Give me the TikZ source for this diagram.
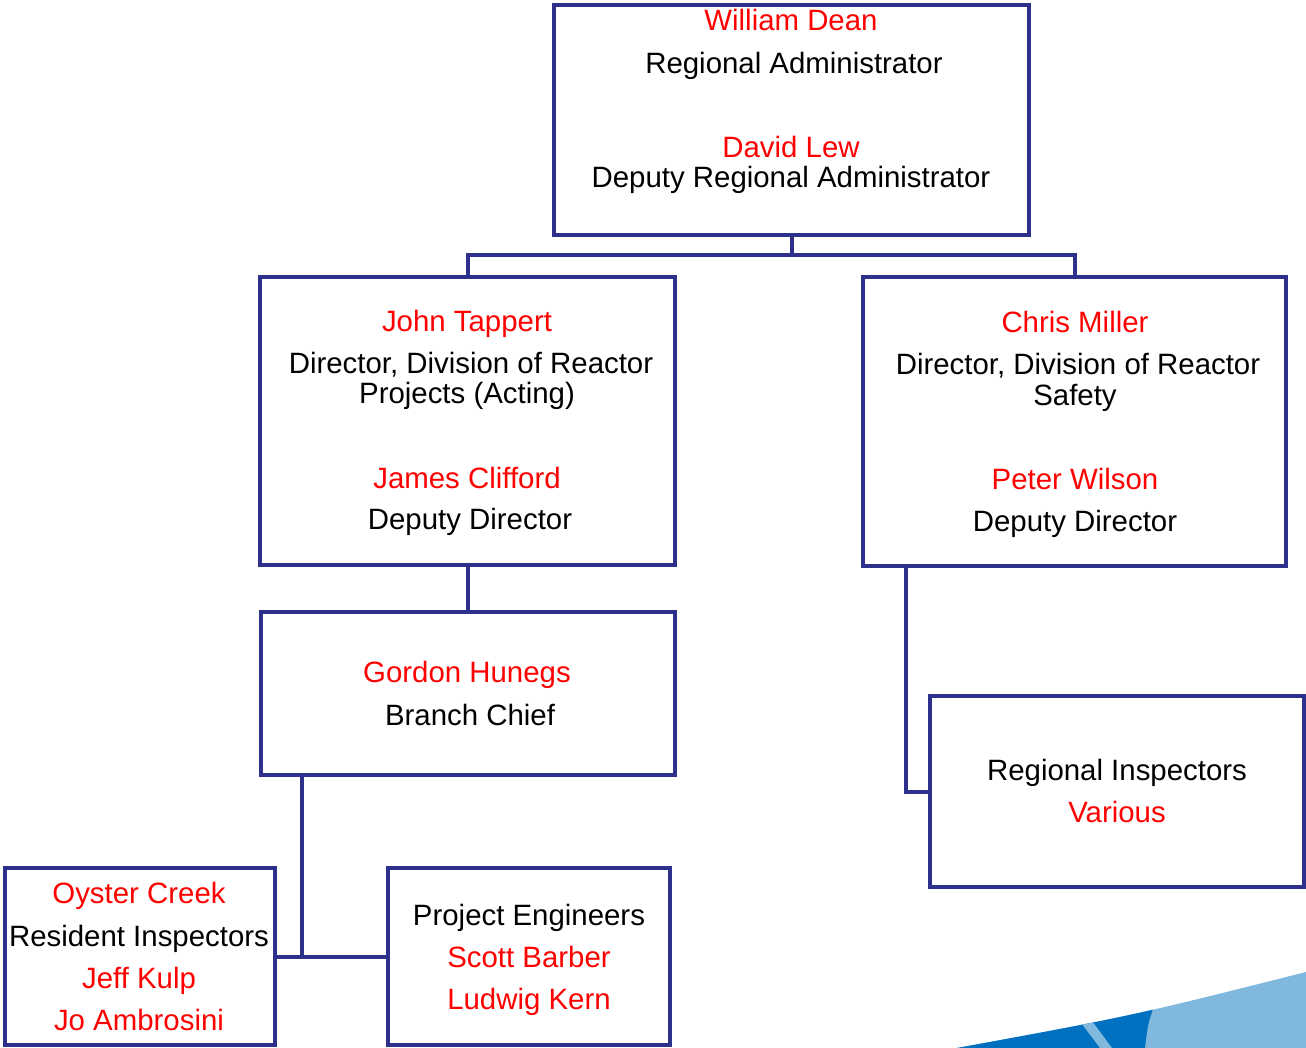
\documentclass[tikz,border=0pt]{standalone}
\usepackage{fontspec}
\setmainfont{Liberation Sans}
\usetikzlibrary{calc}

\definecolor{boxblue}{RGB}{46,49,140}
\definecolor{namered}{RGB}{255,0,0}
\definecolor{swooshdark}{RGB}{0,112,192}
\definecolor{swooshlight}{RGB}{128,184,222}

\tikzset{
  orgbox/.style={draw=boxblue, line width=4pt, rectangle, inner sep=0pt, outer sep=0pt},
  link/.style={draw=boxblue, line width=4pt},
  person/.style={anchor=base, inner sep=0pt, text=namered, font=\fontsize{29.4}{30}\selectfont},
  post/.style={anchor=base, inner sep=0pt, text=black, font=\fontsize{29.4}{30}\selectfont},
}

\begin{document}
\begin{tikzpicture}[x=1pt,y=1pt,yscale=-1,xscale=1]
\useasboundingbox (0,0) rectangle (1306,1048);

%Shape: Rectangle [admin]
\node[orgbox, minimum width=475pt, minimum height=230pt] (admin) at (791.5,120) {};
%Shape: Rectangle [drp]
\node[orgbox, minimum width=415pt, minimum height=288pt] (drp) at (467.5,421) {};
%Shape: Rectangle [drs]
\node[orgbox, minimum width=423pt, minimum height=289pt] (drs) at (1074.5,421.5) {};
%Shape: Rectangle [branch]
\node[orgbox, minimum width=414pt, minimum height=163pt] (branch) at (467.5,693.5) {};
%Shape: Rectangle [oyster]
\node[orgbox, minimum width=270pt, minimum height=177pt] (oyster) at (140,956.5) {};
%Shape: Rectangle [projeng]
\node[orgbox, minimum width=282pt, minimum height=177pt] (projeng) at (529,956.5) {};
%Shape: Rectangle [reginsp]
\node[orgbox, minimum width=374pt, minimum height=191pt] (reginsp) at (1117,791.5) {};

% Text Node
\node[person] (dean) at (791,30.5) {William Dean};
\node[post] (deanpost) at (794,73.5) {Regional Administrator};
\node[person] (lew) at (791,157.5) {David Lew};
\node[post] (lewpost) at (791,187.5) {Deputy Regional Administrator};
% Text Node
\node[person] (tappert) at (467,331.5) {John Tappert};
\node[post] (tappertpost) at (471,373.5) {Director, Division of Reactor};
\node[post] (tappertpostb) at (467,403.5) {Projects (Acting)};
\node[person] (clifford) at (467,488.5) {James Clifford};
\node[post] (cliffordpost) at (470,529.5) {Deputy Director};
% Text Node
\node[person] (miller) at (1075,332.5) {Chris Miller};
\node[post] (millerpost) at (1078,374.5) {Director, Division of Reactor};
\node[post] (millerpostb) at (1075,405.5) {Safety};
\node[person] (wilson) at (1075,489.5) {Peter Wilson};
\node[post] (wilsonpost) at (1075,531.5) {Deputy Director};
% Text Node
\node[person] (hunegs) at (467,682.5) {Gordon Hunegs};
\node[post] (hunegspost) at (470,725.5) {Branch Chief};
% Text Node
\node[person] (creek) at (139,903.5) {Oyster Creek};
\node[post] (creekpost) at (139,946.5) {Resident Inspectors};
\node[person] (kulp) at (139,988.5) {Jeff Kulp};
\node[person] (ambrosini) at (139,1030.5) {Jo Ambrosini};
% Text Node
\node[post] (pepost) at (529,925.5) {Project Engineers};
\node[person] (barber) at (529,967.5) {Scott Barber};
\node[person] (kern) at (529,1009.5) {Ludwig Kern};
% Text Node
\node[post] (ripost) at (1117,780.5) {Regional Inspectors};
\node[person] (various) at (1117,822.5) {Various};

% Connection
\draw[link] (admin.south) -- ++(0,20) -| (drp.north);
\draw[link] (admin.south) -- ++(0,20) -| (drs.north);
% Connection
\draw[link] (drp.south) -- (branch.north);
% Connection
\coordinate (branchfoot) at ($(branch.south west)+(41,0)$);
\draw[link] (branchfoot) -- (branchfoot |- projeng.west);
\draw[link] (oyster.east) -- (projeng.west);
% Connection
\coordinate (drsfoot) at ($(drs.south west)+(43,0)$);
\draw[link] (drsfoot) |- (reginsp.west);

%Shape: Swoosh
\fill[swooshlight] (957,1048) .. controls (1131.5,1016) .. (1306,972) -- (1306,1048) -- cycle;
\begin{scope}
\clip (957,1048) .. controls (1131.5,1016) .. (1306,972) -- (1306,1048) -- cycle;
\fill[swooshdark] (940,990) -- (1160,990) .. controls (1148,1022) .. (1145,1048) -- (940,1048) -- cycle;
\fill[swooshlight] (1075,1015) -- (1086,1013) -- (1112,1048) -- (1100,1048) -- cycle;
\end{scope}

\end{tikzpicture}
\end{document}
